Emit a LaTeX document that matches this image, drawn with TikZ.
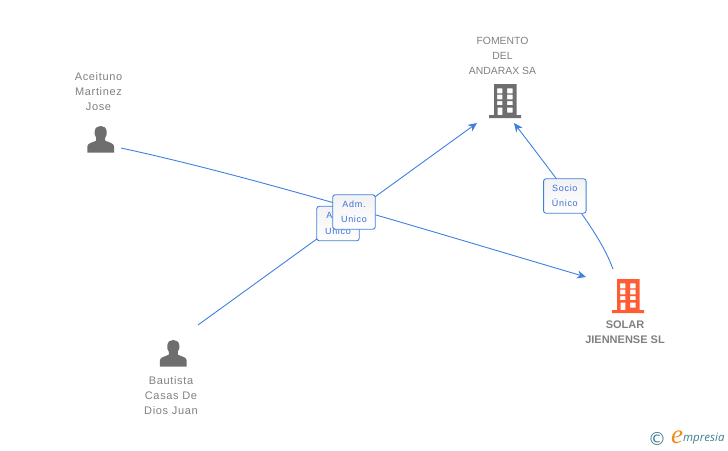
\documentclass[tikz,border=0pt]{standalone}
\usepackage{fontspec}
\setmainfont{Liberation Sans}
\newfontfamily\logoserif{Liberation Serif}
\newfontfamily\logosans{Open Sans}
\newfontfamily\logosymbol{DejaVu Sans}
\usetikzlibrary{arrows.meta}
\definecolor{linkblue}{HTML}{3F80DE}
\definecolor{roletext}{HTML}{3A70D8}
\definecolor{txtgray}{HTML}{808080}
\definecolor{icongray}{HTML}{6E6E6E}
\definecolor{iconorange}{HTML}{FF5C33}
\definecolor{logoteal}{HTML}{3F7F96}
\definecolor{logoorange}{HTML}{F08A1D}
\tikzset{
  x=1pt,y=-1pt,
  conn/.style={draw=linkblue,line width=0.9pt},
  arrowconn/.style={conn,-{Stealth[length=9pt,width=8pt]}},
  rolebox/.style={draw=linkblue,line width=0.9pt,rounded corners=2.5pt,
    top color=black!5,bottom color=white,minimum width=42.5pt,minimum height=34.5pt,
    inner sep=0pt,align=center,text=roletext,
    font=\fontsize{9}{15.5}\selectfont\addfontfeatures{LetterSpace=8}},
  nametext/.style={align=center,text=txtgray,inner sep=0pt,
    font=\fontsize{11}{15}\selectfont\addfontfeatures{LetterSpace=6}},
  capstext/.style={align=center,text=txtgray,inner sep=0pt,
    font=\fontsize{10.4}{15}\selectfont},
  boldname/.style={align=center,text=txtgray,inner sep=0pt,
    font=\fontsize{11}{15}\selectfont\bfseries},
  personicon/.pic={
    \fill[icongray] (-13.4,0) -- (-13.4,-6) .. controls (-13.4,-9.5) and (-9,-10) .. (-4.5,-12)
      .. controls (-4,-13) and (-4,-13.5) .. (-4.5,-15)
      .. controls (-6.2,-17) and (-6.2,-19) .. (-6,-21.5)
      .. controls (-5.5,-25.5) and (-2.5,-26.7) .. (0,-26.7)
      .. controls (2.5,-26.7) and (5.5,-25.5) .. (6,-21.5)
      .. controls (6.2,-19) and (6.2,-17) .. (4.5,-15)
      .. controls (4,-13.5) and (4,-13) .. (4.5,-12)
      .. controls (9,-10) and (13.4,-9.5) .. (13.4,-6) -- (13.4,0) -- cycle;
  },
  buildingicon/.pic={
    \fill[pic actions,even odd rule]
      (-16,31) rectangle (16,34)
      (-11,0) rectangle (11.7,31)
      (-8,4.3) rectangle (-2.7,9.3) (2,4.3) rectangle (7.7,9.3)
      (-8,10.5) rectangle (-2.7,15.3) (2,10.5) rectangle (7.7,15.3)
      (-8,17) rectangle (-2.7,21) (2,17) rectangle (7.7,21)
      (-7.5,23.5) rectangle (-2.7,31) (2,23.5) rectangle (7.7,28.5);
  }
}
\begin{document}
\begin{tikzpicture}
\useasboundingbox (0,0) rectangle (728,450);
% free ends
\coordinate (aStart) at (121,148);
\coordinate (bStart) at (198,325);
\coordinate (fEndA) at (477,123);
\coordinate (fEndS) at (514,123);
\coordinate (sEndA) at (586,277);
\coordinate (sStart) at (613,269);
% connectors
\draw[arrowconn] (aStart) .. controls (250,176) and (400,222) .. (sEndA);
\draw[arrowconn] (bStart) -- (fEndA);
\draw[arrowconn] (sStart) .. controls (603,243) and (590,222) .. (fEndS);
% role boxes
\node[rolebox] (roleBack) at (338,223.5) {Adm.\\Unico};
\node[rolebox] (roleFront) at (354,212) {Adm.\\Unico};
\node[rolebox] (roleSocio) at (564.8,196) {Socio\\Único};
% persons
\pic at (100.7,152.7) {personicon};
\pic at (173.3,366.7) {personicon};
\node[nametext] (aceituno) at (98.5,92) {Aceituno\\Martinez\\Jose};
\node[nametext] (bautista) at (171,395.5) {Bautista\\Casas De\\Dios Juan};
% companies
\pic[fill=icongray] at (505,84) {buildingicon};
\pic[fill=iconorange] at (628,279) {buildingicon};
\node[capstext] (fomento) at (502.5,55.5) {FOMENTO\\DEL\\ANDARAX SA};
\node[boldname] (solar) at (625,332) {SOLAR\\JIENNENSE SL};
% logo
\node[text=logoteal,inner sep=0pt,font=\logosymbol\fontsize{18}{18}\selectfont] (logoC) at (657,438.5) {©};
\node[text=logoorange,inner sep=0pt,font=\logoserif\itshape\fontsize{27}{27}\selectfont] (logoE) at (677,437) {e};
\node[text=logoteal,inner sep=0pt,font=\logosans\itshape\fontsize{11.5}{11.5}\selectfont,anchor=west] (logoM) at (683,439) {mpresia};
\end{tikzpicture}
\end{document}
